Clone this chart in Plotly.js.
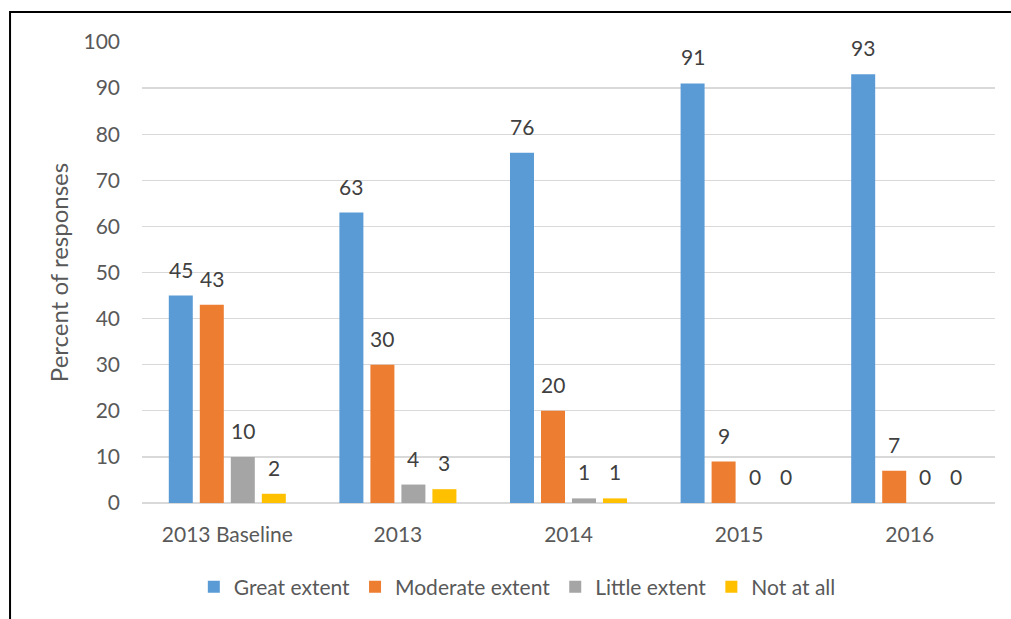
<!DOCTYPE html>
<html>
<head>
<meta charset="utf-8">
<script src="https://cdn.plot.ly/plotly-3.0.1.min.js"></script>
<style>
  html, body { margin: 0; padding: 0; background: #fff; }
  #chart { width: 1011px; height: 619px; }
</style>
</head>
<body>
<div id="chart"></div>
<script>
// Survey years
const categories = ['2013 Baseline', '2013', '2014', '2015', '2016'];

// Percent of responses by extent
const greatExtent = [45, 63, 76, 91, 93];
const moderateExtent = [43, 30, 20, 9, 7];
const littleExtent = [10, 4, 1, 0, 0];
const notAtAll = [2, 3, 1, 0, 0];

const seriesNames = ['Great extent', 'Moderate extent', 'Little extent', 'Not at all'];
const seriesColors = ['#5B9BD5', '#ED7D31', '#A5A5A5', '#FFC000'];
const seriesValues = [greatExtent, moderateExtent, littleExtent, notAtAll];

const yTicks = [0, 10, 20, 30, 40, 50, 60, 70, 80, 90, 100];

const FONT = 'Lato, "Open Sans", sans-serif';
const TEXT_GREY = '#595959';

const traces = seriesValues.map((vals, i) => ({
  type: 'bar',
  name: seriesNames[i],
  x: categories,
  y: vals,
  marker: { color: seriesColors[i], line: { width: 0 } },
  hoverinfo: 'x+y+name'
}));

// Value labels sit a little above each bar; the horizontal offset follows the
// bar's slot within its group. Category labels such as "2013" look numeric, so
// annotations are placed by category index.
const slotPx = 31;
const annotations = [];
seriesValues.forEach((vals, i) => {
  vals.forEach((v, j) => {
    annotations.push({
      x: j,
      y: v,
      xref: 'x', yref: 'y',
      text: String(v),
      showarrow: false,
      xanchor: 'center',
      yanchor: 'bottom',
      xshift: (i - 1.5) * slotPx,
      yshift: 12,
      font: { family: FONT, size: 21, color: '#404040' }
    });
  });
});

const layout = {
  width: 1011,
  height: 619,
  margin: { l: 142, r: 16, t: 42, b: 115 },
  paper_bgcolor: '#ffffff',
  plot_bgcolor: '#ffffff',
  barmode: 'group',
  bargap: 0.273,
  bargroupgap: 0.226,
  font: { family: FONT, size: 21, color: TEXT_GREY },
  xaxis: {
    type: 'category',
    categoryarray: categories,
    range: [-0.5, categories.length - 0.5],
    showgrid: false,
    showline: false,
    zeroline: false,
    ticks: '',
    ticklabelstandoff: 17,
    tickfont: { family: FONT, size: 21, color: TEXT_GREY },
    fixedrange: true
  },
  yaxis: {
    range: [0, 100],
    tickvals: yTicks,
    ticktext: yTicks.map(String),
    showgrid: true,
    gridcolor: '#d9d9d9',
    gridwidth: 1.3,
    zeroline: true,
    zerolinecolor: '#d9d9d9',
    zerolinewidth: 1.3,
    showline: false,
    ticks: '',
    ticklabelstandoff: 21,
    tickfont: { family: FONT, size: 21, color: TEXT_GREY },
    title: {
      text: 'Percent of responses',
      font: { family: FONT, size: 24, color: TEXT_GREY },
      standoff: 8
    },
    fixedrange: true
  },
  legend: {
    orientation: 'h',
    x: 0.44,
    xanchor: 'center',
    y: -0.18,
    yanchor: 'middle',
    font: { family: FONT, size: 21, color: TEXT_GREY },
    itemwidth: 30,
    traceorder: 'normal'
  },
  annotations: annotations,
  shapes: [
    {
      type: 'rect',
      xref: 'paper', yref: 'paper',
      x0: -0.1547, x1: 1.05,
      y0: -0.3, y1: 1.0649,
      line: { color: '#000000', width: 2 },
      fillcolor: 'rgba(0,0,0,0)',
      layer: 'above'
    }
  ],
  showlegend: true
};

Plotly.newPlot('chart', traces, layout, { displayModeBar: false, staticPlot: true });
</script>
</body>
</html>
